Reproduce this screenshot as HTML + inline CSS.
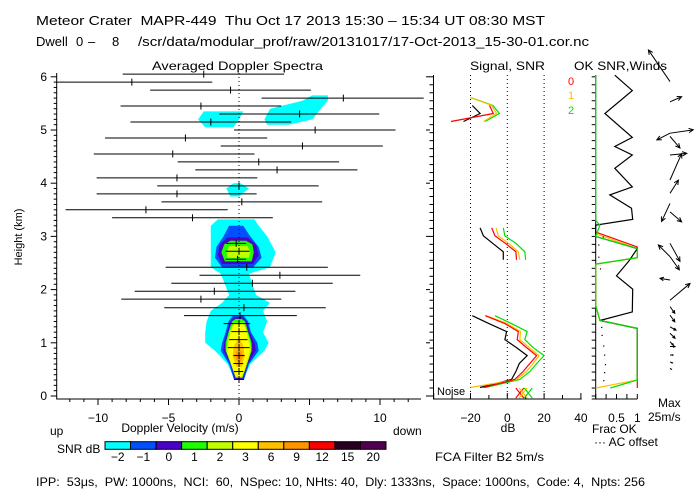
<!DOCTYPE html>
<html><head><meta charset="utf-8"><style>
html,body{margin:0;padding:0;background:#fff;width:700px;height:500px;overflow:hidden}
svg{display:block;font-family:"Liberation Sans",sans-serif}
</style></head><body>
<svg id="chart" width="700" height="500" viewBox="0 0 700 500" xmlns="http://www.w3.org/2000/svg">
<g font-size="13" fill="#000">
<text x="36" y="25" textLength="509" lengthAdjust="spacingAndGlyphs" xml:space="preserve">Meteor Crater  MAPR-449  Thu Oct 17 2013 15:30 – 15:34 UT 08:30 MST</text>
<text x="36" y="46">Dwell</text>
<text x="76" y="46">0</text>
<text x="88" y="46">–</text>
<text x="112" y="46">8</text>
<text x="138" y="46" textLength="451" lengthAdjust="spacingAndGlyphs">/scr/data/modular_prof/raw/20131017/17-Oct-2013_15-30-01.cor.nc</text>
</g>
<g font-size="12" fill="#000">
<text x="152" y="70" textLength="171" lengthAdjust="spacingAndGlyphs">Averaged Doppler Spectra</text>
<text x="470" y="70" textLength="75" lengthAdjust="spacingAndGlyphs">Signal, SNR</text>
<text x="574" y="70" textLength="93" lengthAdjust="spacingAndGlyphs">OK SNR,Winds</text>
<text transform="translate(22,237) rotate(-90)" text-anchor="middle" font-size="11">Height (km)</text>
<text x="180" y="432" text-anchor="middle" font-size="12">Doppler Velocity (m/s)</text>
<text x="50" y="435" font-size="12">up</text>
<text x="393" y="435" font-size="12">down</text>
<text x="508" y="432" text-anchor="middle" font-size="12">dB</text>
<text x="592" y="433" font-size="12">Frac OK</text>
<text x="594" y="446" font-size="12">··· AC offset</text>
<text x="658" y="407" font-size="12">Max</text>
<text x="648" y="421" font-size="12">25m/s</text>
<text x="57" y="453" font-size="12">SNR dB</text>
<text x="435" y="461" textLength="109" lengthAdjust="spacingAndGlyphs" font-size="12">FCA Filter B2  5m/s</text>
<text x="36" y="486" textLength="609" lengthAdjust="spacingAndGlyphs" xml:space="preserve" font-size="12">IPP:  53μs,  PW: 1000ns,  NCI:  60,  NSpec: 10, NHts: 40,  Dly: 1333ns,  Space: 1000ns,  Code: 4,  Npts: 256</text>
<text x="437" y="395" font-size="11">Noise</text>
<text x="568" y="85" font-size="11" fill="#ff0000">0</text>
<text x="568" y="99" font-size="11" fill="#ffbf00">1</text>
<text x="568" y="114" font-size="11" fill="#00e000">2</text>
</g>
<g id="layers"></g>
</svg>
<script>
// ---------- data ----------
const levelColors = ["#00ffff","#0050ff","#4b00c8","#1eff00","#c0ff00","#ffff00","#ffc000","#ff9600","#ff0000","#28001e","#500050"];
const levelLabels = ["-2","-1","0","1","2","3","6","9","12","15","20"];
const blobLevels = [0,0,0,0, 1,2,3,4,5,6,7, 1,2,3,4];
const blobProfiles = [
 [[0.3,-0.3,0.3],[0.6,-0.8,0.8],[0.85,-1.7,1.8],[1.0,-2.4,2.1],[1.2,-2.4,1.7],[1.4,-2.3,2.0],[1.6,-2.0,1.7],[1.75,-1.2,2.2],[1.9,-0.7,1.2],[2.3,-1.3,0.7],[2.42,-2.0,2.2],[2.7,-2.0,2.6],[3.0,-2.0,2.0],[3.2,-2.0,1.4],[3.32,-1.5,1.1]],
 [[5.05,-2.4,-0.4],[5.2,-2.9,0.0],[5.35,-2.5,0.3]],
 [[5.1,2.0,3.5],[5.2,1.8,5.2],[5.4,2.2,5.8],[5.55,4.5,6.3],[5.65,5.2,6.3]],
 [[3.75,-0.6,0.0],[3.9,-0.9,0.7],[4.0,-0.4,0.1]],
 [[0.3,-0.35,0.35],[0.6,-0.7,0.7],[0.85,-1.3,1.4],[1.0,-1.2,1.3],[1.2,-0.95,0.85],[1.4,-0.75,0.65],[1.52,-0.4,0.3]],
 [[0.32,-0.3,0.3],[0.6,-0.6,0.6],[0.85,-1.1,1.2],[1.0,-1.05,1.1],[1.2,-0.85,0.75],[1.4,-0.6,0.55],[1.48,-0.3,0.25]],
 [[0.34,-0.25,0.25],[0.55,-0.5,0.5],[0.85,-0.95,0.9],[1.0,-0.95,0.9],[1.2,-0.75,0.65],[1.4,-0.5,0.45],[1.45,-0.25,0.2]],
 [[0.35,-0.22,0.22],[0.5,-0.45,0.45],[0.85,-0.9,0.85],[1.0,-0.85,0.8],[1.2,-0.65,0.6],[1.38,-0.4,0.35]],
 [[0.37,-0.2,0.2],[0.5,-0.4,0.4],[0.8,-0.8,0.7],[0.95,-0.8,0.75],[1.05,-0.7,0.6],[1.25,-0.55,0.5],[1.36,-0.3,0.3]],
 [[0.55,-0.2,0.2],[0.75,-0.45,0.4],[0.95,-0.35,0.3],[1.05,-0.1,0.1]],
 [[0.65,-0.1,0.1],[0.75,-0.3,0.3],[0.85,-0.15,0.15]],
 [[2.42,-1.2,1.0],[2.6,-1.7,1.6],[2.8,-1.6,1.4],[3.0,-1.1,0.8],[3.2,-0.7,0.3]],
 [[2.48,-1.2,1.0],[2.65,-1.5,1.4],[2.85,-1.35,1.2],[2.98,-0.8,0.6]],
 [[2.53,-1.0,0.9],[2.7,-1.25,1.05],[2.85,-1.05,0.95],[2.92,-0.6,0.5]],
 [[2.6,-0.8,0.7],[2.7,-0.9,0.8],[2.82,-0.7,0.6]]
];
const barHeights=[6.05,5.9,5.75,5.6,5.45,5.3,5.15,5.0,4.85,4.7,4.55,4.4,4.25,4.1,3.95,3.8,3.65,3.5,3.35,2.87,2.72,2.57,2.42,2.27,2.12,1.97,1.82,1.66,1.51,1.36,1.21,1.06,0.91,0.76,0.61,0.46,0.31];
const barLow=[-8.25,-13,-6.3,1.6,-8.4,-1.4,-7.7,-0.35,-9.5,-1.3,-10.3,-4.35,-3.1,-10.1,-5.8,-10.1,-5.5,-12.3,-9.0,-0.9,-0.95,-0.95,-5.2,-2.8,-4.8,-7.4,-8.35,-5.3,-3.9,-1.1,-0.55,-0.7,-0.8,-0.4,-0.4,-0.35,-0.35];
const barHigh=[3.2,-1.9,5.1,13.1,3.0,9.95,3.7,11.1,2.0,10.2,1.1,7.1,8.4,1.3,5.65,1.25,5.9,-0.8,2.4,0.5,0.75,0.5,6.3,8.6,6.65,4.0,3.0,6.15,4.1,0.8,0.6,0.6,0.75,0.4,0.3,0.3,0.35];
const barCenter=[-2.5,-7.6,-0.6,7.4,-2.7,4.3,-2.0,5.4,-3.8,4.5,-4.7,1.4,2.7,-4.4,0,-4.4,0.2,-6.6,-3.3,-0.2,0,-0.1,0.55,2.9,0.95,-1.75,-2.7,0.35,0.07,0,0,0,0,0,0,0,0];
const snrLowH=[0.16,0.31,0.46,0.61,0.76,0.91,1.06,1.21,1.36,1.51];
const snrLowBlack=[-14.8,2.3,4.7,6.5,10.8,5,-1.3,-0.4,-10,-19];
const snrLowRed=[-13,4,8.6,12.3,15.9,10.5,5.4,6,-1.3,-12];
const snrLowOrange=[-20,5,10.5,14,17.3,11.9,6.8,7.2,0,-11.5];
const snrLowGreen=[-12,6.8,12.3,16,20,14,9.5,10.8,2.3,-6.7];
const snrMidH=[2.56,2.71,2.86,3.01,3.16];
const snrMidBlack=[-2.2,-2.2,-7.6,-13,-14.8];
const snrMidRed=[5,4.7,-0.7,-6.7,-8.5];
const snrMidOrange=[6.8,6,1,-4.9,-6.1];
const snrMidGreen=[10,9.5,5,-1.3,-2.2];
const snrTopH=[5.16,5.31,5.46,5.61];
const snrTopBlack=[-23.8,-14.8,-19,null];
const snrTopRed=[-30.6,-7.6,-9.7,null];
const snrTopOrange=[-13,-5.8,-8.5,-20];
const snrTopGreen=[-12,-4.3,-7.8,-20];
const noiseDb=[6.8,8.6,11.4];
const okBlackH=[6.03,5.74,5.31,4.86,4.69,4.53,4.28,3.93,3.78,3.53,3.32,3.21,3.0,2.77,2.54,2.26,2.01,1.58,1.42,1.27,0.3];
const okBlackF=[0.46,0.88,0.22,0.88,0.46,0.88,0.46,0.88,0.34,0.86,0.89,0,0,1,0.8,0.5,0.89,0.88,0.1,1,1];
const okGreenH=[6.03,3.3,3.21,3.0,2.77,2.6,2.48,1.7,1.42,1.27,0.3,0.15];
const okGreenF=[0,0,0.1,0,1,1,0,0,0.1,1,1,0.35];
const okOrangeH=[3.05,2.77,2.6,2.48,1.7,1.42,1.27,0.3,0.15];
const okOrangeF=[0,1,1,0,0,0.1,1,1,0];
const okRedH=[3.08,2.8,2.6,2.48,1.7,1.42,1.27,0.3,0.15];
const okRedF=[0,1,1,0,0,0.1,1,1,1];
const acH=[3.0,2.85,2.62,2.4,1.3,1.15,0.95,0.78,0.6,0.45,0.3];
const acF=[0.17,0.06,0.06,0.1,0.13,0.14,0.18,0.2,0.22,0.2,0.18];
const windH=[5.91,5.53,4.94,4.94,4.88,4.53,4.06,3.81,3.62,3.46,2.87,2.62,2.62,2.18,1.8,1.68,1.52,1.3,1.18,1.02,0.93,0.77,0.64,0.52];
const windU=[-18,9.7,-11,19.4,8.3,14,9.7,7,-7,9.7,8.3,-9.7,7.8,-8.3,16.7,4,4,5,4.2,2.8,4.2,2.5,2,1.2];
const windV=[26.4,4.2,-5.6,2.8,-9.7,1.4,22,11,-15,-8.3,-15,9.7,-11,1.4,14,-5.6,-5.6,-2.8,-4.2,-2.8,0,0,-0.8,-0.8];
const vTicks=[-10,-5,0,5,10];
const hTicks=[0,1,2,3,4,5,6];
const dbTicks=[-20,0,20,40];
const fracTicks=[0.5,1];

const NS="http://www.w3.org/2000/svg";
const root=document.getElementById('layers');
const xV=v=>239+14.1*v;
const yH=h=>396-53.2*h;
const xDb=d=>507.3+1.84*d;
const xF=f=>595.7+41.6*f;
function mk(tag,attrs,parent){const e=document.createElementNS(NS,tag);for(const k in attrs)e.setAttribute(k,attrs[k]);(parent||root).appendChild(e);return e;}
function grp(name){const g=mk('g',{});return g;}

const gC=grp('spectra-contours');
blobProfiles.forEach((p,i)=>{
  const pts=p.map(r=>xV(r[1]).toFixed(1)+','+yH(r[0]).toFixed(1)).concat(p.slice().reverse().map(r=>xV(r[2]).toFixed(1)+','+yH(r[0]).toFixed(1)));
  const e=mk('polygon',{points:pts.join(' '),fill:levelColors[blobLevels[i]]},gC);
  
  
});

const gA=grp('spectra-axes');
let e=mk('line',{x1:xV(0),y1:73,x2:xV(0),y2:399,stroke:'#000','stroke-dasharray':'1,3'},gA);


e=mk('path',{d:'M56.7,73V399H421',fill:'none',stroke:'#000'},gA);


for(let v=-12;v<=12;v++){const maj=v%5===0;e=mk('line',{x1:xV(v),y1:399,x2:xV(v),y2:maj?405:402,stroke:'#000'},gA);
 
 }
vTicks.forEach(v=>{e=mk('text',{x:xV(v),y:422,'text-anchor':'middle','font-size':12},gA);e.textContent=v<0?'−'+(-v):String(v);
 
 });
for(let i=0;i<=60;i++){const h=i/10;const maj=i%10===0;e=mk('line',{x1:maj?50.7:53.7,y1:yH(h),x2:56.7,y2:yH(h),stroke:'#000'},gA);
 
 }
hTicks.forEach(h=>{e=mk('text',{x:47,y:yH(h)+4,'text-anchor':'end','font-size':12},gA);e.textContent=h;
 
 
 e=mk('line',{x1:426,y1:yH(h),x2:430,y2:yH(h),stroke:'#000'},gA);
 
 });

const gB=grp('velocity-error-bars');
barHeights.forEach((h,i)=>{const y=yH(h);
 e=mk('line',{x1:Math.max(xV(barLow[i]),56.7),y1:y,x2:xV(barHigh[i]),y2:y,stroke:'#000'},gB);
 
 
 e=mk('line',{x1:xV(barCenter[i]),y1:y-3.5,x2:xV(barCenter[i]),y2:y+3.5,stroke:'#000'},gB);
 
 });

const gS=grp('snr-panel');
e=mk('path',{d:'M433.5,75V399H581.7',fill:'none',stroke:'#000'},gS);


for(let i=0;i<=40;i++){e=mk('line',{x1:429.5,y1:yH(i*0.15),x2:433.5,y2:yH(i*0.15),stroke:'#000'},gS);
 
 }
for(let d=-40;d<=40;d+=10){e=mk('line',{x1:xDb(d),y1:399,x2:xDb(d),y2:d%20===0?393:395,stroke:'#000'},gS);
 
 }
[-20,0,20].forEach(d=>{e=mk('line',{x1:xDb(d),y1:75,x2:xDb(d),y2:399,stroke:'#000','stroke-dasharray':'1,3'},gS);
 
 });
dbTicks.forEach(d=>{e=mk('text',{x:xDb(d),y:422,'text-anchor':'middle','font-size':12},gS);e.textContent=d<0?'−'+(-d):String(d);
 
 });
function poly(hs,vals,xf,color,g,name){const pts=[];hs.forEach((h,i)=>{if(vals[i]!==null)pts.push(xf(vals[i]).toFixed(1)+','+yH(h).toFixed(1));});
 const p=mk('polyline',{points:pts.join(' '),fill:'none',stroke:color,'stroke-width':1.2},g);
 
 }
const cols={black:'#000',red:'#ff0000',orange:'#ffbf00',green:'#00e000'};
[[snrLowH,snrLowBlack,snrLowRed,snrLowOrange,snrLowGreen,'low'],[snrMidH,snrMidBlack,snrMidRed,snrMidOrange,snrMidGreen,'mid'],[snrTopH,snrTopBlack,snrTopRed,snrTopOrange,snrTopGreen,'top']].forEach(s=>{
 poly(s[0],s[1],xDb,cols.black,gS,'signal-line-'+s[5]);
 poly(s[0],s[4],xDb,cols.green,gS,'snr-2-line-'+s[5]);
 poly(s[0],s[3],xDb,cols.orange,gS,'snr-1-line-'+s[5]);
 poly(s[0],s[2],xDb,cols.red,gS,'snr-0-line-'+s[5]);
});
[cols.red,cols.orange,cols.green].forEach((c,i)=>{const x=xDb(noiseDb[i]),y=393;
 e=mk('path',{d:`M${x-4},${y-5}L${x+4},${y+5}M${x+4},${y-5}L${x-4},${y+5}`,stroke:c,'stroke-width':1.2},gS);
 
 });

const gO=grp('frac-ok-panel');
e=mk('path',{d:'M595.7,75V399M591.7,399H637.3',fill:'none',stroke:'#000'},gO);


for(let i=0;i<=40;i++){e=mk('line',{x1:591.7,y1:yH(i*0.15),x2:595.7,y2:yH(i*0.15),stroke:'#000'},gO);
 
 }
for(let f=0;f<=1;f+=0.25){e=mk('line',{x1:xF(f),y1:399,x2:xF(f),y2:394,stroke:'#000'},gO);
 
 }
fracTicks.forEach(f=>{e=mk('text',{x:xF(f),y:422,'text-anchor':'middle','font-size':12},gO);e.textContent=String(f);
 
 });
poly(okRedH,okRedF,xF,cols.red,gO,'ok-frac-0');
poly(okOrangeH,okOrangeF,xF,cols.orange,gO,'ok-frac-1');
poly(okBlackH,okBlackF,xF,cols.black,gO,'ok-snr-line');
poly(okGreenH,okGreenF,xF,cols.green,gO,'ok-frac-2');
acH.forEach((h,i)=>{e=mk('rect',{x:xF(acF[i]),y:yH(h),width:1.2,height:1.2,fill:'#000'},gO);
 
 });

const gW=grp('wind-arrows');
const ws=1.2;
windH.forEach((h,i)=>{const x0=670,y0=yH(h),x1=x0+windU[i]*ws,y1=y0-windV[i]*ws;
 const a=Math.atan2(y1-y0,x1-x0),L=Math.hypot(x1-x0,y1-y0),hl=Math.min(5,L*0.4);
 const p1=[x1-hl*Math.cos(a-0.45),y1-hl*Math.sin(a-0.45)],p2=[x1-hl*Math.cos(a+0.45),y1-hl*Math.sin(a+0.45)];
 e=mk('path',{d:`M${x0},${y0}L${x1},${y1}M${p1[0]},${p1[1]}L${x1},${y1}L${p2[0]},${p2[1]}`,fill:'none',stroke:'#000','stroke-width':1},gW);
 
 });

const gK=grp('snr-colorbar');
const bw=(386-105)/levelColors.length;
levelColors.forEach((c,i)=>{e=mk('rect',{x:105+i*bw,y:441.7,width:bw,height:7.6,fill:c,stroke:'#000','stroke-width':1},gK);
 
 
 e=mk('text',{x:105+i*bw+bw/2,y:461,'text-anchor':'middle','font-size':12},gK);e.textContent=levelLabels[i].replace('-','−');
 
 });
</script>
</body></html>
